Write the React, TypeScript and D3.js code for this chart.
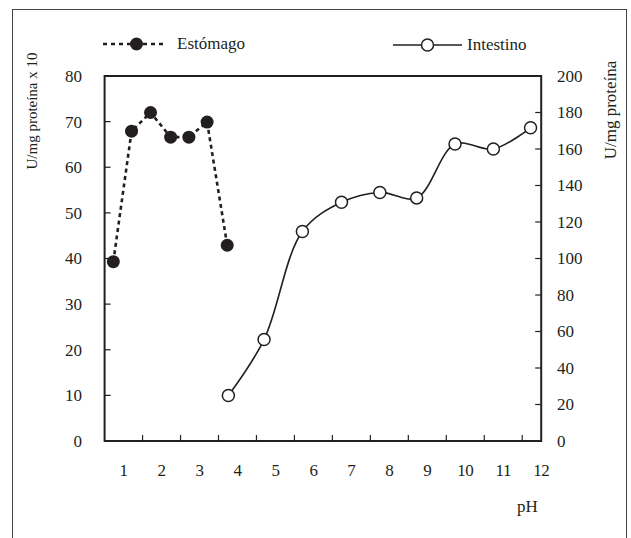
import { useEffect, useRef } from 'react';
import * as d3 from 'd3';

// pH labels on the x axis
const phLabels = [1, 2, 3, 4, 5, 6, 7, 8, 9, 10, 11, 12];

// Estómago (left axis, U/mg proteína x 10)
const stomachPh = [0.73, 1.21, 1.71, 2.24, 2.72, 3.2, 3.73];
const stomachValues = [39.3, 67.9, 72.0, 66.6, 66.6, 69.9, 42.9];

// Intestino (right axis, U/mg proteína)
const intestinePh = [3.76, 4.7, 5.71, 6.74, 7.75, 8.72, 9.73, 10.74, 11.72];
const intestineValues = [24.9, 55.6, 114.8, 130.8, 136.2, 133.2, 162.7, 160.0, 171.6];

const leftTicks = [0, 10, 20, 30, 40, 50, 60, 70, 80];
const rightTicks = [0, 20, 40, 60, 80, 100, 120, 140, 160, 180, 200];

const INK = '#231f20';
const FONT = '"Liberation Serif", "Times New Roman", serif';

export default function App() {
    const svgRef = useRef<SVGSVGElement>(null);

    useEffect(() => {
        const width = 631;
        const height = 538;
        const plot = { left: 104.6, right: 541.2, top: 76, bottom: 441 };

        const svg = d3.select(svgRef.current);
        svg.selectAll('*').remove();
        svg.attr('width', width).attr('height', height).style('font-family', FONT);

        // Scales
        const x = d3.scaleLinear().domain([0.5, 12]).range([plot.left, plot.right]);
        const yL = d3.scaleLinear().domain([0, 80]).range([plot.bottom, plot.top]);
        const yR = d3.scaleLinear().domain([0, 200]).range([plot.bottom, plot.top]);

        // Outer frame
        svg.append('rect')
            .attr('x', 12.5)
            .attr('y', 9.5)
            .attr('width', 614)
            .attr('height', 560)
            .attr('fill', 'none')
            .attr('stroke', '#444')
            .attr('stroke-width', 1);

        // Plot box
        svg.append('rect')
            .attr('x', plot.left)
            .attr('y', plot.top)
            .attr('width', plot.right - plot.left)
            .attr('height', plot.bottom - plot.top)
            .attr('fill', 'none')
            .attr('stroke', INK)
            .attr('stroke-width', 2);

        // X ticks (between labels, pointing inward)
        const xTicks = phLabels.slice(0, -1).map((d) => d + 0.5);
        svg.append('g')
            .selectAll('line')
            .data(xTicks)
            .enter()
            .append('line')
            .attr('x1', (d) => x(d))
            .attr('x2', (d) => x(d))
            .attr('y1', plot.bottom)
            .attr('y2', plot.bottom - 6)
            .attr('stroke', INK)
            .attr('stroke-width', 1.2);

        svg.append('g')
            .selectAll('text')
            .data(phLabels)
            .enter()
            .append('text')
            .attr('x', (d) => x(d))
            .attr('y', 476)
            .attr('text-anchor', 'middle')
            .style('font-size', '17px')
            .style('letter-spacing', '-0.5px')
            .attr('fill', INK)
            .text((d) => d);

        svg.append('text')
            .attr('x', 517)
            .attr('y', 512)
            .style('font-size', '17px')
            .attr('fill', INK)
            .text('pH');

        // Left axis
        svg.append('g')
            .selectAll('line')
            .data(leftTicks.slice(1, -1))
            .enter()
            .append('line')
            .attr('x1', plot.left)
            .attr('x2', plot.left + 6)
            .attr('y1', (d) => yL(d))
            .attr('y2', (d) => yL(d))
            .attr('stroke', INK)
            .attr('stroke-width', 1.2);

        svg.append('g')
            .selectAll('text')
            .data(leftTicks)
            .enter()
            .append('text')
            .attr('x', 82)
            .attr('y', (d) => yL(d))
            .attr('dy', '0.35em')
            .attr('text-anchor', 'end')
            .style('font-size', '17px')
            .attr('fill', INK)
            .text((d) => d);

        svg.append('text')
            .attr('transform', 'translate(32,111) rotate(-90)')
            .attr('dy', '0.35em')
            .attr('text-anchor', 'middle')
            .style('font-size', '15px')
            .attr('fill', INK)
            .text('U/mg proteína x 10');

        // Right axis
        svg.append('g')
            .selectAll('line')
            .data(rightTicks.slice(1, -1))
            .enter()
            .append('line')
            .attr('x1', plot.right)
            .attr('x2', plot.right - 6)
            .attr('y1', (d) => yR(d))
            .attr('y2', (d) => yR(d))
            .attr('stroke', INK)
            .attr('stroke-width', 1.2);

        svg.append('g')
            .selectAll('text')
            .data(rightTicks)
            .enter()
            .append('text')
            .attr('x', 557)
            .attr('y', (d) => yR(d))
            .attr('dy', '0.35em')
            .attr('text-anchor', 'start')
            .style('font-size', '17px')
            .attr('fill', INK)
            .text((d) => d);

        svg.append('text')
            .attr('transform', 'translate(610,110) rotate(-90)')
            .attr('dy', '0.35em')
            .attr('text-anchor', 'middle')
            .style('font-size', '17px')
            .attr('fill', INK)
            .text('U/mg proteína');

        // Intestino line (smooth)
        const intestine = intestinePh.map((p, i) => [x(p), yR(intestineValues[i])] as [number, number]);
        const smooth = d3.line().curve(d3.curveCatmullRom.alpha(0.5));
        svg.append('path')
            .attr('d', smooth(intestine))
            .attr('fill', 'none')
            .attr('stroke', INK)
            .attr('stroke-width', 1.6);

        svg.append('g')
            .selectAll('circle')
            .data(intestine)
            .enter()
            .append('circle')
            .attr('cx', (d) => d[0])
            .attr('cy', (d) => d[1])
            .attr('r', 6)
            .attr('fill', '#fff')
            .attr('stroke', INK)
            .attr('stroke-width', 1.5);

        // Estómago line (dashed, straight)
        const stomach = stomachPh.map((p, i) => [x(p), yL(stomachValues[i])] as [number, number]);
        svg.append('path')
            .attr('d', d3.line()(stomach))
            .attr('fill', 'none')
            .attr('stroke', INK)
            .attr('stroke-width', 2.6)
            .attr('stroke-dasharray', '4,3.5');

        svg.append('g')
            .selectAll('circle')
            .data(stomach)
            .enter()
            .append('circle')
            .attr('cx', (d) => d[0])
            .attr('cy', (d) => d[1])
            .attr('r', 6.5)
            .attr('fill', INK);

        // Legend
        const lg = svg.append('g');
        lg.append('line')
            .attr('x1', 103).attr('x2', 167)
            .attr('y1', 44).attr('y2', 44)
            .attr('stroke', INK)
            .attr('stroke-width', 2.6)
            .attr('stroke-dasharray', '4,4');
        lg.append('circle')
            .attr('cx', 136.5).attr('cy', 44).attr('r', 6.5)
            .attr('fill', INK);
        lg.append('text')
            .attr('x', 177).attr('y', 49)
            .style('font-size', '17px')
            .attr('fill', INK)
            .text('Estómago');

        lg.append('line')
            .attr('x1', 393).attr('x2', 462)
            .attr('y1', 45).attr('y2', 45)
            .attr('stroke', INK)
            .attr('stroke-width', 1.5);
        lg.append('circle')
            .attr('cx', 427.5).attr('cy', 45).attr('r', 6)
            .attr('fill', '#fff')
            .attr('stroke', INK)
            .attr('stroke-width', 1.5);
        lg.append('text')
            .attr('x', 467).attr('y', 50)
            .style('font-size', '17px')
            .attr('fill', INK)
            .text('Intestino');
    }, []);

    return (
        <div style={{ position: 'absolute', left: 0, top: 0 }}>
            <svg ref={svgRef} style={{ display: 'block' }}></svg>
        </div>
    );
}
